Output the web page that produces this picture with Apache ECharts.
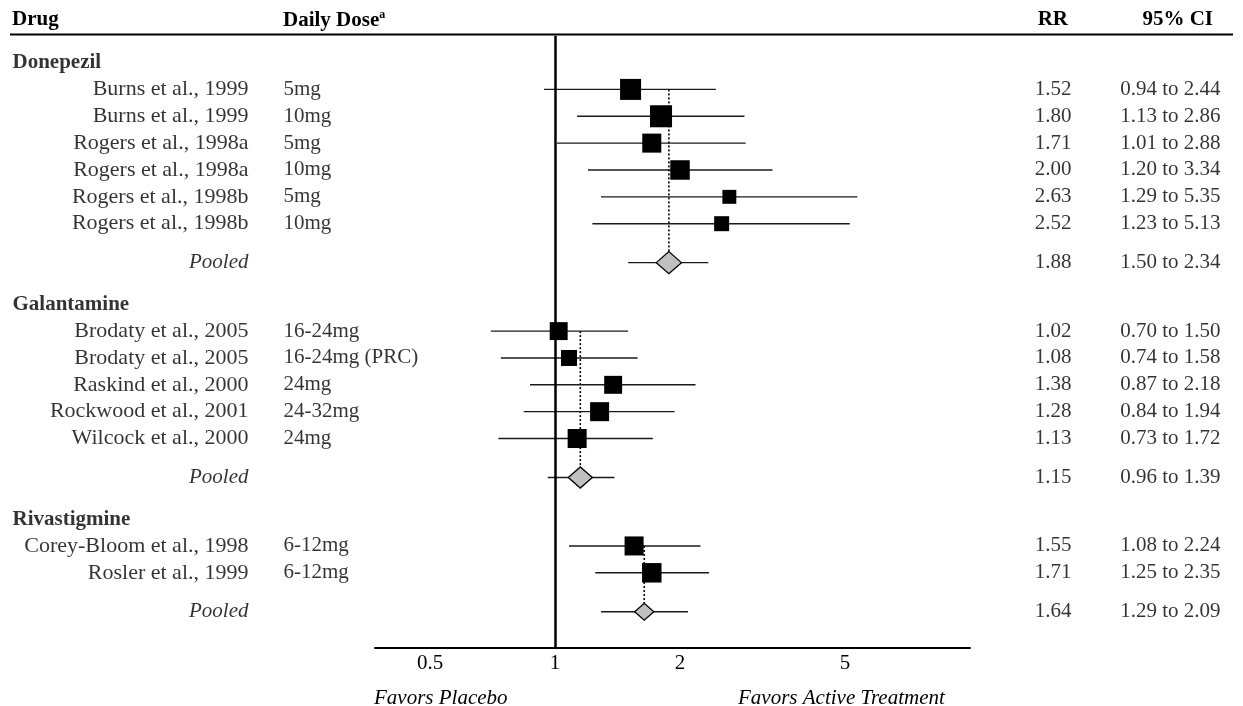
<!DOCTYPE html>
<html><head><meta charset="utf-8">
<script src="https://cdn.jsdelivr.net/npm/echarts@6/dist/echarts.min.js"></script>
<style>html,body{margin:0;padding:0;background:#fff}#c{width:1243px;height:706px}</style>
</head><body><div id="c"></div>
<script>
// ---------------- data ----------------
const drugs = ['Donepezil', 'Galantamine', 'Rivastigmine'];
const studies = ['Burns et al., 1999', 'Burns et al., 1999', 'Rogers et al., 1998a', 'Rogers et al., 1998a',
  'Rogers et al., 1998b', 'Rogers et al., 1998b', 'Brodaty et al., 2005', 'Brodaty et al., 2005',
  'Raskind et al., 2000', 'Rockwood et al., 2001', 'Wilcock et al., 2000', 'Corey-Bloom et al., 1998',
  'Rosler et al., 1999'];
const doses = ['5mg', '10mg', '5mg', '10mg', '5mg', '10mg', '16-24mg', '16-24mg (PRC)', '24mg', '24-32mg',
  '24mg', '6-12mg', '6-12mg'];
const studyDrug = [0, 0, 0, 0, 0, 0, 1, 1, 1, 1, 1, 2, 2];
const rr = [1.52, 1.80, 1.71, 2.00, 2.63, 2.52, 1.02, 1.08, 1.38, 1.28, 1.13, 1.55, 1.71];
const ciLow = [0.94, 1.13, 1.01, 1.20, 1.29, 1.23, 0.70, 0.74, 0.87, 0.84, 0.73, 1.08, 1.25];
const ciHigh = [2.44, 2.86, 2.88, 3.34, 5.35, 5.13, 1.50, 1.58, 2.18, 1.94, 1.72, 2.24, 2.35];
const weights = [100, 110, 82, 86, 44, 51, 73, 58, 73, 82, 82, 82, 86];
const pooledRR = [1.88, 1.15, 1.64];
const pooledLow = [1.50, 0.96, 1.29];
const pooledHigh = [2.34, 1.39, 2.09];
const pooledWeight = [110, 100, 64];
const xTicks = [0.5, 1, 2, 5];
const pooledLabel = 'Pooled';
const headers = { drug: 'Drug', dose: 'Daily Dose', doseNote: 'a', rr: 'RR', ci: '95% CI' };
const favors = ['Favors Placebo', 'Favors Active Treatment'];

// ---------------- row layout ----------------
const studyRow = [], pooledRow = [], drugRow = [], firstRow = [];
let pos = -1;
drugs.forEach((d, g) => {
  drugRow.push(pos); pos += 1;
  firstRow.push(pos);
  studies.forEach((s, i) => { if (studyDrug[i] === g) { studyRow[i] = pos; pos += 1; } });
  const p = pos - 1 + 1.45; pooledRow.push(p); pos = p + 1.55;
});

const ROW_MIN = -2, ROW_MAX = 20.8;
const TOP = 35.7, HEIGHT = 612.3;
const FONT = '"Liberation Serif", "Times New Roman", serif';
const fmt = v => v.toFixed(2);

// text column grids
const cols = [
  { left: 12, width: 200 },   // drug names (anchor left)
  { left: 0, width: 249 },    // study names (anchor right)
  { left: 283, width: 150 },  // doses (anchor left)
  { left: 950, width: 122 },  // RR (anchor right)
  { left: 1080, width: 141 }  // CI (anchor right)
];
const grids = [{ left: 375, width: 595, top: TOP, height: HEIGHT }];
const xAxes = [{
  type: 'log', gridIndex: 0, min: 0.368, max: 10, position: 'bottom',
  axisLine: { show: true, onZero: false, lineStyle: { color: '#000', width: 2 } },
  axisTick: { show: false }, minorTick: { show: false }, splitLine: { show: false },
  axisLabel: { customValues: xTicks, formatter: v => String(v), fontFamily: FONT, fontSize: 21, color: '#000', margin: 5 }
}];
const yAxes = [{ type: 'value', gridIndex: 0, inverse: true, min: ROW_MIN, max: ROW_MAX, show: false }];
cols.forEach((c, k) => {
  grids.push({ left: c.left, width: c.width, top: TOP, height: HEIGHT });
  xAxes.push({ type: 'value', gridIndex: k + 1, min: 0, max: 1, show: false });
  yAxes.push({ type: 'value', gridIndex: k + 1, inverse: true, min: ROW_MIN, max: ROW_MAX, show: false });
});

function textSeries(colIdx, items, anchorRight, extra) {
  return {
    type: 'scatter', xAxisIndex: colIdx + 1, yAxisIndex: colIdx + 1, silent: true,
    symbolSize: 1, itemStyle: { color: 'rgba(0,0,0,0)' },
    data: items.map(it => ({ value: [anchorRight ? 1 : 0, it[0]], name: it[1] })),
    label: Object.assign({
      show: true, position: anchorRight ? 'left' : 'right', distance: 0,
      formatter: p => p.name, fontFamily: FONT, fontSize: 21, color: '#000'
    }, extra || {})
  };
}

const series = [];
series.push(textSeries(0, drugs.map((d, g) => [drugRow[g], d]), false, { fontWeight: 'bold' }));
series.push(textSeries(1, studies.map((s, i) => [studyRow[i], s]), true, { fontSize: 22 }));
series.push(textSeries(1, drugs.map((d, g) => [pooledRow[g], pooledLabel]), true, { fontStyle: 'italic' }));
series.push(textSeries(2, doses.map((s, i) => [studyRow[i], s]), false));
series.push(textSeries(3, rr.map((v, i) => [studyRow[i], fmt(v)]).concat(pooledRR.map((v, g) => [pooledRow[g], fmt(v)])), true));
series.push(textSeries(4, ciLow.map((v, i) => [studyRow[i], fmt(v) + ' to ' + fmt(ciHigh[i])])
  .concat(pooledLow.map((v, g) => [pooledRow[g], fmt(v) + ' to ' + fmt(pooledHigh[g])])), true));

// pooled: dotted line, whisker, diamond + reference line at 1
series.push({
  type: 'custom', xAxisIndex: 0, yAxisIndex: 0, silent: true,
  data: pooledRR.map((v, g) => [v, pooledLow[g], pooledHigh[g], pooledRow[g], firstRow[g], pooledWeight[g]]),
  encode: { x: [0, 1, 2], y: 3 },
  renderItem: (params, api) => {
    const y = api.value(3);
    const c = api.coord([api.value(0), y]);
    const a = api.coord([api.value(1), y]);
    const b = api.coord([api.value(2), y]);
    const top = api.coord([api.value(0), api.value(4)]);
    const w = 2.4 * Math.sqrt(api.value(5)) / 2;
    const h = w * 0.88;
    return {
      type: 'group', children: [
        { type: 'line', shape: { x1: top[0], y1: top[1], x2: c[0], y2: c[1] - h }, style: { stroke: '#000', lineWidth: 1.6, lineDash: [2, 2] } },
        { type: 'line', shape: { x1: a[0], y1: a[1], x2: b[0], y2: b[1] }, style: { stroke: '#1a1a1a', lineWidth: 1.4 } },
        { type: 'polygon', shape: { points: [[c[0] - w, c[1]], [c[0], c[1] - h], [c[0] + w, c[1]], [c[0], c[1] + h]] }, style: { fill: '#c0c0c0', stroke: '#000', lineWidth: 1.3 } }
      ]
    };
  },
  markLine: {
    silent: true, symbol: ['none', 'none'], label: { show: false }, animation: false,
    lineStyle: { color: '#000', width: 2.5, type: 'solid' },
    data: [{ xAxis: 1 }]
  }
});

// studies: whiskers + squares
series.push({
  type: 'custom', xAxisIndex: 0, yAxisIndex: 0, silent: true,
  data: rr.map((v, i) => [v, ciLow[i], ciHigh[i], studyRow[i], weights[i]]),
  encode: { x: [0, 1, 2], y: 3 },
  renderItem: (params, api) => {
    const y = api.value(3);
    const c = api.coord([api.value(0), y]);
    const a = api.coord([api.value(1), y]);
    const b = api.coord([api.value(2), y]);
    const s = 2.1 * Math.sqrt(api.value(4));
    return {
      type: 'group', children: [
        { type: 'line', shape: { x1: a[0], y1: a[1], x2: b[0], y2: b[1] }, style: { stroke: '#1a1a1a', lineWidth: 1.4 } },
        { type: 'rect', shape: { x: c[0] - s / 2, y: c[1] - s / 2, width: s, height: s }, style: { fill: '#000' } }
      ]
    };
  }
});

const boldHead = { fontFamily: FONT, fontSize: 21, fontWeight: 'bold', fill: '#000' };
const chart = echarts.init(document.getElementById('c'), null, { renderer: 'canvas' });
chart.setOption({
  animation: false,
  backgroundColor: '#fff',
  grid: grids, xAxis: xAxes, yAxis: yAxes, series: series,
  graphic: [
    { type: 'line', shape: { x1: 10, y1: 34.5, x2: 1233, y2: 34.5 }, style: { stroke: '#000', lineWidth: 2 } },
    { type: 'text', left: 12, top: 9, style: Object.assign({ text: headers.drug }, boldHead) },
    { type: 'text', left: 283, top: 9, style: {
      text: '{m|' + headers.dose + '}{s|' + headers.doseNote + '}',
      rich: { m: Object.assign({ lineHeight: 24 }, boldHead), s: { fontFamily: FONT, fontSize: 12, fontWeight: 'bold', fill: '#000', verticalAlign: 'top', lineHeight: 24, padding: [0, 0, 10, 0] } }
    } },
    { type: 'text', right: 175, top: 9, style: Object.assign({ text: headers.rr }, boldHead) },
    { type: 'text', right: 30, top: 9, style: Object.assign({ text: headers.ci }, boldHead) },
    { type: 'text', left: 374, top: 688, style: { text: favors[0], fontFamily: FONT, fontSize: 21, fontStyle: 'italic', fill: '#000' } },
    { type: 'text', left: 738, top: 688, style: { text: favors[1], fontFamily: FONT, fontSize: 21, fontStyle: 'italic', fill: '#000' } }
  ]
});
</script>
</body></html>
